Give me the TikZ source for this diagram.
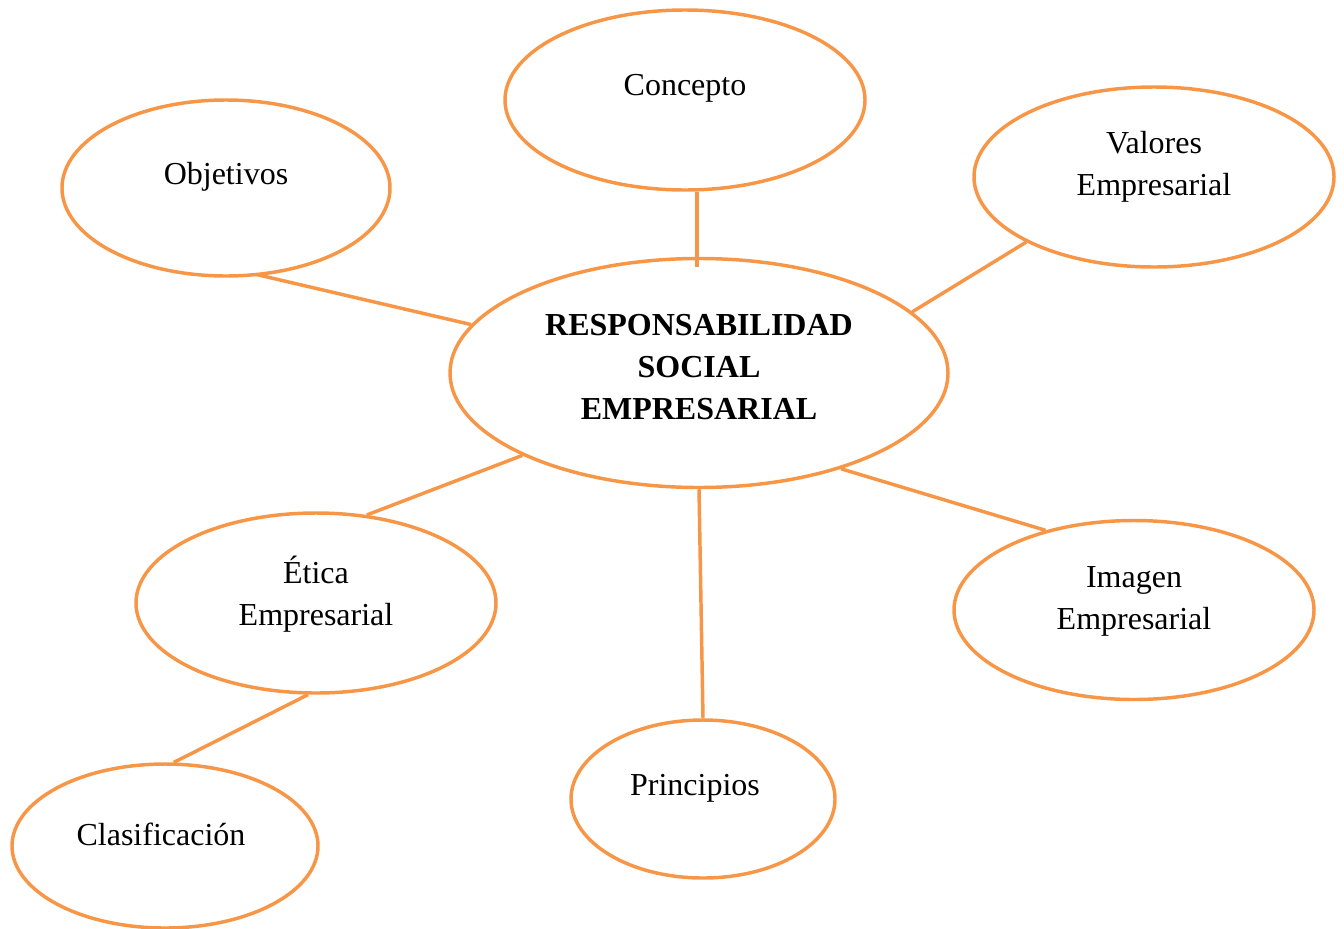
\documentclass[tikz,border=0pt]{standalone}
\usepackage{fontspec}
\setmainfont{Liberation Serif}
\usetikzlibrary{shapes.geometric}
\definecolor{rseorange}{RGB}{247,150,70}
\begin{document}
\begin{tikzpicture}[x=0.75pt,y=-0.75pt,
  bubble/.style={ellipse,draw=rseorange,line width=2.6pt,inner sep=0pt},
  lbl/.style={font=\fontsize{24}{31.5}\selectfont,align=center,text=black,inner sep=0pt},
  link/.style={draw=rseorange,line width=2.6pt}]
\useasboundingbox (0,0) rectangle (1344,928);
% ellipses (sizes given in px, 1px = 0.75pt)
\node[bubble,minimum width=0.75*360pt,minimum height=0.75*180pt] (concepto) at (685,100) {};
\node[bubble,minimum width=0.75*328pt,minimum height=0.75*176pt] (objetivos) at (226,188) {};
\node[bubble,minimum width=0.75*360pt,minimum height=0.75*180pt] (valores) at (1154,177) {};
\node[bubble,minimum width=0.75*498pt,minimum height=0.75*229pt] (rse) at (699,373) {};
\node[bubble,minimum width=0.75*360pt,minimum height=0.75*180pt] (etica) at (316,603) {};
\node[bubble,minimum width=0.75*360pt,minimum height=0.75*179pt] (imagen) at (1134,610) {};
\node[bubble,minimum width=0.75*264pt,minimum height=0.75*158pt] (principios) at (703,799) {};
\node[bubble,minimum width=0.75*306pt,minimum height=0.75*164pt] (clasif) at (165,846) {};
% texts
\node[lbl] (tconcepto) at (685,88) {Concepto};
\node[lbl] (tobjetivos) at (226,177) {Objetivos};
\node[lbl] (tvalores) at (1154,167) {Valores\\Empresarial};
\node[lbl,font=\bfseries\fontsize{24}{31.5}\selectfont] (trse) at (699,367) {RESPONSABILIDAD\\SOCIAL\\EMPRESARIAL};
\node[lbl] (tetica) at (316,594) {Ética\\Empresarial};
\node[lbl] (timagen) at (1134,601) {Imagen\\Empresarial};
\node[lbl] (tprincipios) at (695,788) {Principios};
\node[lbl] (tclasif) at (161,834) {Clasificación};
% connectors
\draw[link] ([xshift=12*0.75pt]concepto.south) -- ([xshift=-2*0.75pt,yshift=-10*0.75pt]rse.north);
\draw[link,shorten <=-4pt] (objetivos.292) -- (rse.168);
\draw[link] (valores.207) -- (rse.16);
\draw[link] (etica.60) -- (rse.205);
\draw[link] (imagen.138) -- (rse.326);
\draw[link] (rse.south) -- (principios.north);
\draw[link] (etica.265) -- (clasif.84);
\end{tikzpicture}
\end{document}
